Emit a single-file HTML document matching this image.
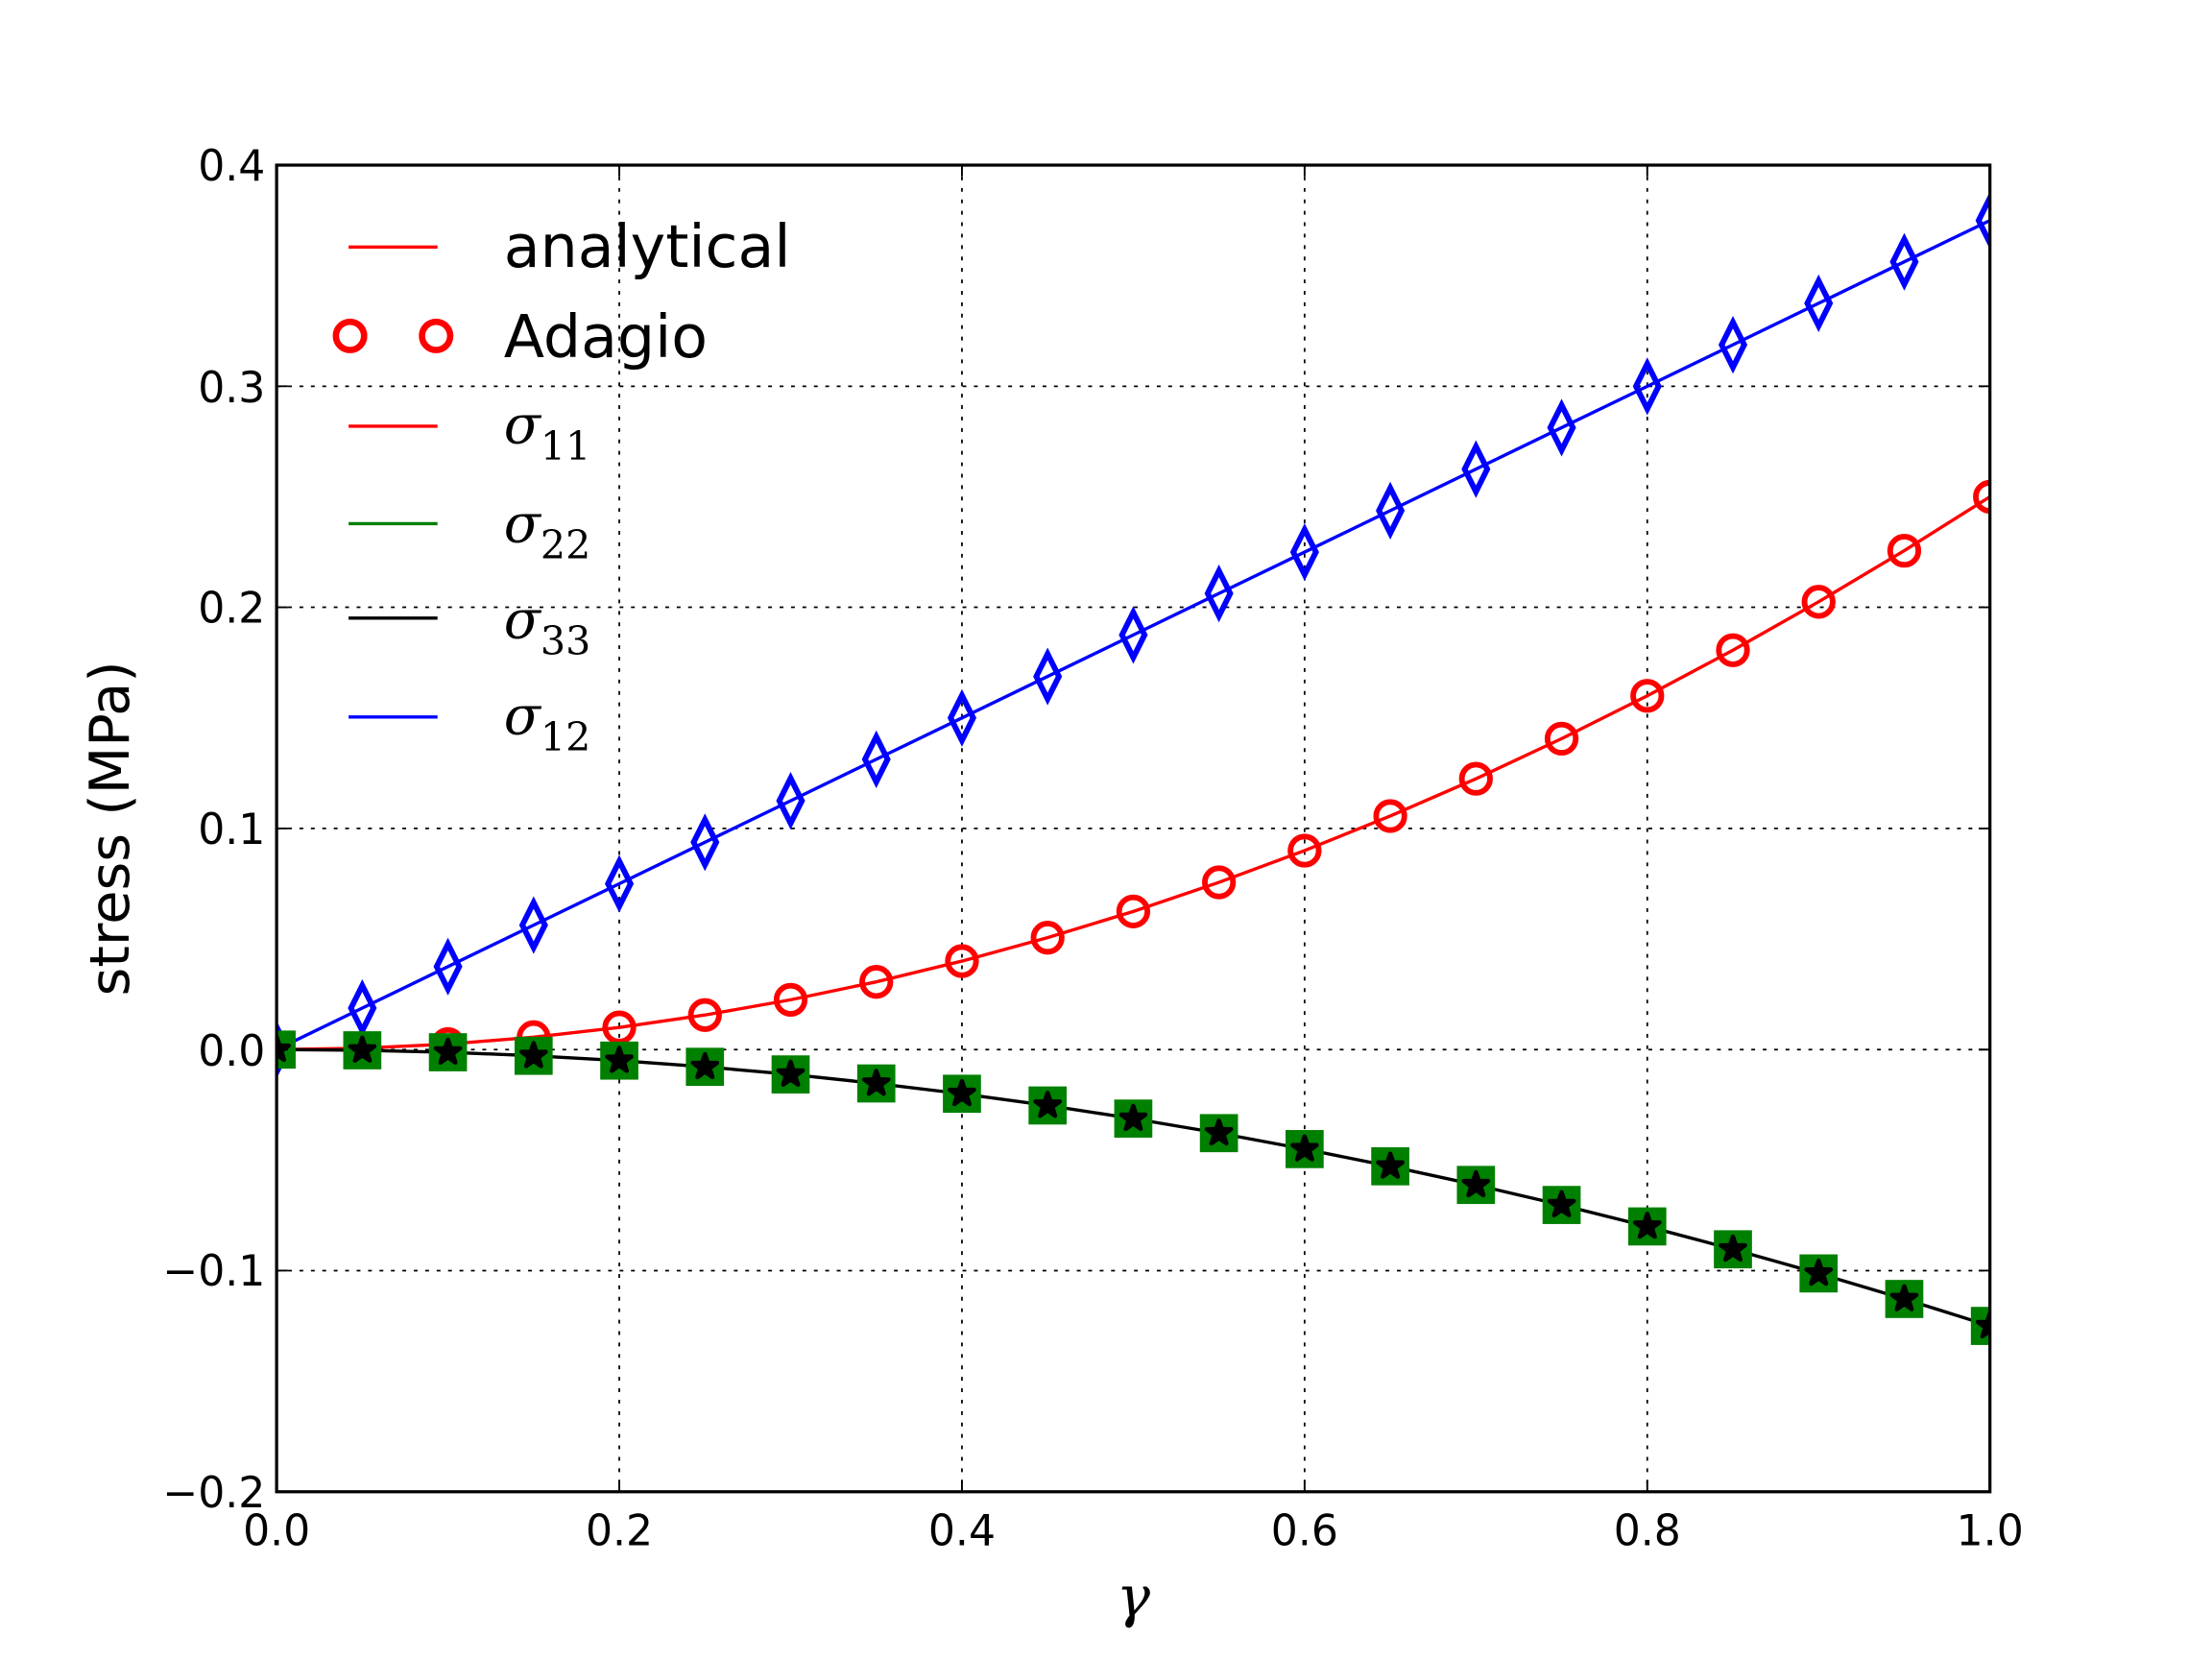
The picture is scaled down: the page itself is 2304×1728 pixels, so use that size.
<!DOCTYPE html>
<html><head><meta charset="utf-8"><style>html,body{margin:0;padding:0;background:#fff}svg{display:block}</style></head>
<body>
<svg width="2304" height="1728" viewBox="0 0 1567.35 1175.5" xmlns="http://www.w3.org/2000/svg" font-family="'DejaVu Sans','Liberation Sans',sans-serif">
<defs>
<clipPath id="ax"><rect x="196" y="117" width="1214" height="940"/></clipPath>
<g id="ci"><circle r="10" fill="none" stroke="#f00" stroke-width="4"/></g>
<g id="di"><polygon points="0,-16 8,0 0,16 -8,0" fill="none" stroke="#00f" stroke-width="4"/></g>
<g id="sq"><rect x="-13.5" y="-13.5" width="27" height="27" fill="#008000"/></g>
<g id="st"><polygon points="0,-9 2.1,-2.9 8.6,-2.8 3.4,1.1 5.3,7.3 0,3.6 -5.3,7.3 -3.4,1.1 -8.6,-2.8 -2.1,-2.9" fill="#000" stroke="#000" stroke-width="3" stroke-linejoin="round"/></g>
</defs>
<rect width="1567.35" height="1175.5" fill="#fff"/>
<g stroke="#000" stroke-width="1.2" stroke-dasharray="2.7,5.4">
<line x1="438.8" y1="117" x2="438.8" y2="1057"/><line x1="681.6" y1="117" x2="681.6" y2="1057"/><line x1="924.4" y1="117" x2="924.4" y2="1057"/><line x1="1167.2" y1="117" x2="1167.2" y2="1057"/>
<line x1="196" y1="273.7" x2="1410" y2="273.7"/><line x1="196" y1="430.3" x2="1410" y2="430.3"/><line x1="196" y1="587" x2="1410" y2="587"/><line x1="196" y1="743.7" x2="1410" y2="743.7"/><line x1="196" y1="900.3" x2="1410" y2="900.3"/>
</g>
<g clip-path="url(#ax)">
<polyline fill="none" stroke="#00f" stroke-width="2.3" points="196,743.7 256.7,714.3 317.4,684.9 378.1,655.5 438.8,626.2 499.5,596.8 560.2,567.4 620.9,538 681.6,508.7 742.3,479.3 803,449.9 863.7,420.5 924.4,391.2 985.1,361.8 1045.8,332.4 1106.5,303 1167.2,273.7 1227.9,244.3 1288.6,214.9 1349.3,185.5 1410,156.2"/>
<polyline fill="none" stroke="#f00" stroke-width="2.3" points="196,743.7 256.7,742.7 317.4,739.8 378.1,734.9 438.8,728 499.5,719.2 560.2,708.4 620.9,695.7 681.6,681 742.3,664.4 803,645.8 863.7,625.2 924.4,602.7 985.1,578.2 1045.8,551.8 1106.5,523.4 1167.2,493 1227.9,460.7 1288.6,426.4 1349.3,390.2 1410,352"/>
<polyline fill="none" stroke="#000" stroke-width="2.3" points="196,743.7 256.7,744.2 317.4,745.6 378.1,748.1 438.8,751.5 499.5,755.9 560.2,761.3 620.9,767.7 681.6,775 742.3,783.3 803,792.6 863.7,802.9 924.4,814.2 985.1,826.4 1045.8,839.6 1106.5,853.8 1167.2,869 1227.9,885.2 1288.6,902.3 1349.3,920.4 1410,939.5"/>
<use href="#di" x="196" y="743.7"/><use href="#di" x="256.7" y="714.3"/><use href="#di" x="317.4" y="684.9"/><use href="#di" x="378.1" y="655.5"/><use href="#di" x="438.8" y="626.2"/><use href="#di" x="499.5" y="596.8"/><use href="#di" x="560.2" y="567.4"/><use href="#di" x="620.9" y="538"/><use href="#di" x="681.6" y="508.7"/><use href="#di" x="742.3" y="479.3"/><use href="#di" x="803" y="449.9"/><use href="#di" x="863.7" y="420.5"/><use href="#di" x="924.4" y="391.2"/><use href="#di" x="985.1" y="361.8"/><use href="#di" x="1045.8" y="332.4"/><use href="#di" x="1106.5" y="303"/><use href="#di" x="1167.2" y="273.7"/><use href="#di" x="1227.9" y="244.3"/><use href="#di" x="1288.6" y="214.9"/><use href="#di" x="1349.3" y="185.5"/><use href="#di" x="1410" y="156.2"/>
<use href="#ci" x="196" y="743.7"/><use href="#ci" x="256.7" y="742.7"/><use href="#ci" x="317.4" y="739.8"/><use href="#ci" x="378.1" y="734.9"/><use href="#ci" x="438.8" y="728"/><use href="#ci" x="499.5" y="719.2"/><use href="#ci" x="560.2" y="708.4"/><use href="#ci" x="620.9" y="695.7"/><use href="#ci" x="681.6" y="681"/><use href="#ci" x="742.3" y="664.4"/><use href="#ci" x="803" y="645.8"/><use href="#ci" x="863.7" y="625.2"/><use href="#ci" x="924.4" y="602.7"/><use href="#ci" x="985.1" y="578.2"/><use href="#ci" x="1045.8" y="551.8"/><use href="#ci" x="1106.5" y="523.4"/><use href="#ci" x="1167.2" y="493"/><use href="#ci" x="1227.9" y="460.7"/><use href="#ci" x="1288.6" y="426.4"/><use href="#ci" x="1349.3" y="390.2"/><use href="#ci" x="1410" y="352"/>
<use href="#sq" x="196" y="743.7"/><use href="#sq" x="256.7" y="744.2"/><use href="#sq" x="317.4" y="745.6"/><use href="#sq" x="378.1" y="748.1"/><use href="#sq" x="438.8" y="751.5"/><use href="#sq" x="499.5" y="755.9"/><use href="#sq" x="560.2" y="761.3"/><use href="#sq" x="620.9" y="767.7"/><use href="#sq" x="681.6" y="775"/><use href="#sq" x="742.3" y="783.3"/><use href="#sq" x="803" y="792.6"/><use href="#sq" x="863.7" y="802.9"/><use href="#sq" x="924.4" y="814.2"/><use href="#sq" x="985.1" y="826.4"/><use href="#sq" x="1045.8" y="839.6"/><use href="#sq" x="1106.5" y="853.8"/><use href="#sq" x="1167.2" y="869"/><use href="#sq" x="1227.9" y="885.2"/><use href="#sq" x="1288.6" y="902.3"/><use href="#sq" x="1349.3" y="920.4"/><use href="#sq" x="1410" y="939.5"/>
<use href="#st" x="196" y="743.7"/><use href="#st" x="256.7" y="744.2"/><use href="#st" x="317.4" y="745.6"/><use href="#st" x="378.1" y="748.1"/><use href="#st" x="438.8" y="751.5"/><use href="#st" x="499.5" y="755.9"/><use href="#st" x="560.2" y="761.3"/><use href="#st" x="620.9" y="767.7"/><use href="#st" x="681.6" y="775"/><use href="#st" x="742.3" y="783.3"/><use href="#st" x="803" y="792.6"/><use href="#st" x="863.7" y="802.9"/><use href="#st" x="924.4" y="814.2"/><use href="#st" x="985.1" y="826.4"/><use href="#st" x="1045.8" y="839.6"/><use href="#st" x="1106.5" y="853.8"/><use href="#st" x="1167.2" y="869"/><use href="#st" x="1227.9" y="885.2"/><use href="#st" x="1288.6" y="902.3"/><use href="#st" x="1349.3" y="920.4"/><use href="#st" x="1410" y="939.5"/>
</g>
<g stroke="#000" stroke-width="1.3">
<path d="M438.8,1057v-8M681.6,1057v-8M924.4,1057v-8M1167.2,1057v-8M438.8,117v8M681.6,117v8M924.4,117v8M1167.2,117v8"/>
<path d="M196,273.7h8M196,430.3h8M196,587h8M196,743.7h8M196,900.3h8M1410,273.7h-8M1410,430.3h-8M1410,587h-8M1410,743.7h-8M1410,900.3h-8"/>
</g>
<rect x="196" y="117" width="1214" height="940" fill="none" stroke="#000" stroke-width="2.2"/>
<g font-size="30" fill="#000" text-anchor="end">
<text x="188" y="128">0.4</text><text x="188" y="285">0.3</text><text x="188" y="441">0.2</text><text x="188" y="598">0.1</text><text x="188" y="755">0.0</text><text x="188" y="911">−0.1</text><text x="188" y="1068">−0.2</text>
</g>
<g font-size="30" fill="#000" text-anchor="middle">
<text x="196" y="1095">0.0</text><text x="438.8" y="1095">0.2</text><text x="681.6" y="1095">0.4</text><text x="924.4" y="1095">0.6</text><text x="1167.2" y="1095">0.8</text><text x="1410" y="1095">1.0</text>
</g>
<text transform="translate(91,587) rotate(-90)" font-size="39" text-anchor="middle">stress (MPa)</text>
<text x="803" y="1145" font-size="40" font-style="italic" font-family="'DejaVu Serif','Liberation Serif',serif" text-anchor="middle">γ</text>
<g stroke-width="2.3">
<line x1="247" y1="175" x2="310" y2="175" stroke="#f00"/>
<line x1="247" y1="302" x2="310" y2="302" stroke="#f00"/>
<line x1="247" y1="371" x2="310" y2="371" stroke="#008000"/>
<line x1="247" y1="438" x2="310" y2="438" stroke="#000"/>
<line x1="247" y1="508" x2="310" y2="508" stroke="#00f"/>
</g>
<circle cx="248" cy="238" r="10" fill="none" stroke="#f00" stroke-width="4.5"/>
<circle cx="309" cy="238" r="10" fill="none" stroke="#f00" stroke-width="4.5"/>
<g font-size="42" fill="#000">
<text x="357" y="189">analytical</text>
<text x="357" y="253">Adagio</text>
</g>
<g font-family="'DejaVu Serif','Liberation Serif',serif" fill="#000">
<text x="357" y="314" font-size="38" font-style="italic">σ<tspan font-size="28" font-style="normal" dy="12">11</tspan></text>
<text x="357" y="384" font-size="38" font-style="italic">σ<tspan font-size="28" font-style="normal" dy="12">22</tspan></text>
<text x="357" y="452" font-size="38" font-style="italic">σ<tspan font-size="28" font-style="normal" dy="12">33</tspan></text>
<text x="357" y="520" font-size="38" font-style="italic">σ<tspan font-size="28" font-style="normal" dy="12">12</tspan></text>
</g>
</svg>
</body></html>
